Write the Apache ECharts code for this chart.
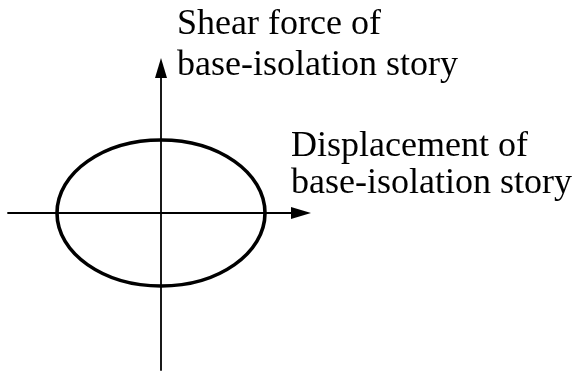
<!DOCTYPE html>
<html>
<head>
<meta charset="utf-8">
<script src="https://cdn.jsdelivr.net/npm/echarts@6/dist/echarts.min.js"></script>
<style>
  html, body { margin: 0; padding: 0; background: #ffffff; }
  #chart { width: 576px; height: 371px; }
</style>
</head>
<body>
<div id="chart"></div>
<script>
// hysteresis loop sketch: axis extents and the loop (center + half widths)
const xRange = [-1.53, 1.40]
const yRange = [-1.57, 1.45]
const loopCenter = [0, 0]
const loopRadii = [1.04, 0.73]
const xLabel = ['Displacement of', 'base-isolation story']
const yLabel = ['Shear force of', 'base-isolation story']

const chart = echarts.init(document.getElementById('chart'))

const axisCommon = {
  type: 'value',
  axisTick: { show: false },
  axisLabel: { show: false },
  splitLine: { show: false },
  axisLine: {
    onZero: true,
    symbol: ['none', 'triangle'],
    symbolSize: [12, 20],
    lineStyle: { color: '#000', width: 1.8 }
  }
}

const option = {
  backgroundColor: '#ffffff',
  animation: false,
  grid: { left: 8, top: 68, width: 293, height: 302 },
  xAxis: { ...axisCommon, min: xRange[0], max: xRange[1] },
  yAxis: { ...axisCommon, min: yRange[0], max: yRange[1] },
  series: [{
    type: 'custom',
    data: [[loopCenter[0], loopCenter[1], loopRadii[0], loopRadii[1]]],
    renderItem: (params, api) => {
      const c = api.coord([api.value(0), api.value(1)])
      const e = api.coord([api.value(0) + api.value(2), api.value(1) + api.value(3)])
      return {
        type: 'ellipse',
        shape: { cx: c[0], cy: c[1], rx: Math.abs(e[0] - c[0]), ry: Math.abs(e[1] - c[1]) },
        style: { fill: 'none', stroke: '#000', lineWidth: 3.6 }
      }
    }
  }],
  graphic: [
    {
      type: 'text',
      style: {
        x: 177, y: 4.5,
        text: yLabel.join('\n'),
        font: '36px "Liberation Serif", "Times New Roman", serif',
        lineHeight: 41,
        fill: '#000',
        textVerticalAlign: 'top'
      }
    },
    {
      type: 'text',
      style: {
        x: 291, y: 128.5,
        text: xLabel.join('\n'),
        font: '36px "Liberation Serif", "Times New Roman", serif',
        lineHeight: 37,
        fill: '#000',
        textVerticalAlign: 'top'
      }
    }
  ]
}

chart.setOption(option)
window.addEventListener('resize', () => chart.resize())
</script>
</body>
</html>
